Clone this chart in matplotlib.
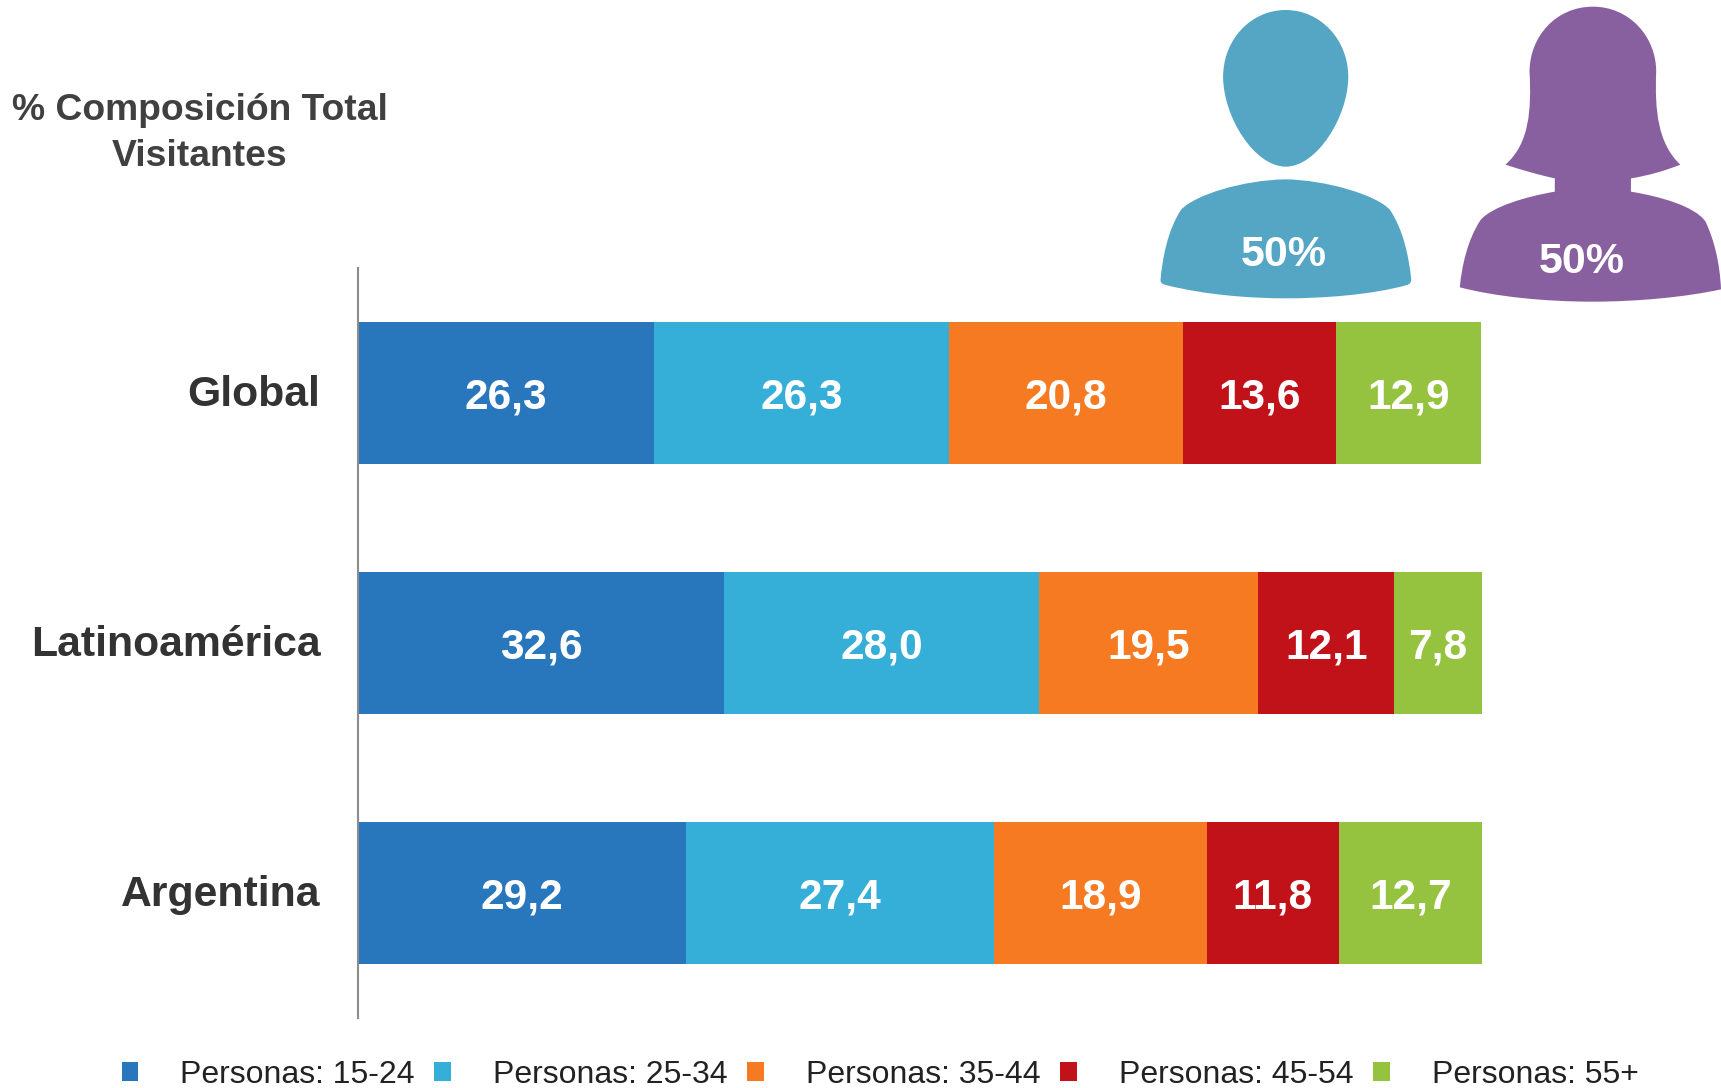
import matplotlib
matplotlib.use('Agg')
import matplotlib.pyplot as plt
from matplotlib.path import Path
from matplotlib.patches import PathPatch
from matplotlib.transforms import ScaledTranslation

plt.rcParams['font.family'] = ['Liberation Sans', 'DejaVu Sans']

categories = ['Global', 'Latinoamérica', 'Argentina']
personas_15_24 = [26.3, 32.6, 29.2]
personas_25_34 = [26.3, 28.0, 27.4]
personas_35_44 = [20.8, 19.5, 18.9]
personas_45_54 = [13.6, 12.1, 11.8]
personas_55 = [12.9, 7.8, 12.7]

series = [personas_15_24, personas_25_34, personas_35_44, personas_45_54, personas_55]
labels = ['Personas: 15-24', 'Personas: 25-34', 'Personas: 35-44', 'Personas: 45-54', 'Personas: 55+']
colors = ['#2876BC', '#35AED8', '#F57A22', '#C1121A', '#95C33F']

W, H = 1721, 1088
fig = plt.figure(figsize=(W / 100, H / 100), dpi=100)

# bars, axes box given in pixels of the reference
ax = fig.add_axes([358 / W, 1 - 1018 / H, 1124 / W, 750 / H])
ax.set_xlim(0, 100)
ax.set_ylim(2.5, -0.5)

left = [0, 0, 0]
for vals, lab, col in zip(series, labels, colors):
    bars = ax.barh(categories, vals, left=left, height=0.568, color=col, label=lab)
    anns = ax.bar_label(bars, labels=[f'{v:.1f}'.replace('.', ',') for v in vals], label_type='center',
                        color='white', fontsize=30.5, fontweight='bold')
    for a in anns:
        a.xyann = (0, -3)  # labels sit a little low in the bars
    left = [a + b for a, b in zip(left, vals)]

for s in ['top', 'right', 'bottom']:
    ax.spines[s].set_visible(False)
ax.spines['left'].set_color('#8C8C8C')
ax.spines['left'].set_linewidth(1.5)
ax.xaxis.set_visible(False)
ax.tick_params(axis='y', length=0, pad=27, labelsize=30.8, labelcolor='#333333')
for t in ax.get_yticklabels():
    t.set_fontweight('bold')
    t.set_transform(t.get_transform() + ScaledTranslation(0, 1.6 / 72, fig.dpi_scale_trans))

ax.legend(loc='center', bbox_to_anchor=(880 / W, 1 - 1075 / H), bbox_transform=fig.transFigure,
          ncols=5, frameon=False, fontsize=23, labelcolor='#222222', handlelength=0.53, handleheight=0.53,
          handletextpad=1.3, columnspacing=0.62, borderpad=0, borderaxespad=0)

# overlay in reference pixels for the silhouettes and the heading
ov = fig.add_axes([0, 0, 1, 1])
ov.set_xlim(0, W)
ov.set_ylim(H, 0)
ov.axis('off')
ov.patch.set_alpha(0)


def shape(points):
    verts, codes = [], []
    for i, p in enumerate(points):
        xy = (1130 + p[0] / 2.653, p[1] / 3)
        verts.append(xy)
        if i == 0:
            codes.append(Path.MOVETO)
        elif len(p) == 3:
            codes.append(Path.LINETO)
        else:
            codes.append(Path.CURVE4)
    return Path(verts, codes)


man_head = [(413, 30), (320, 30), (247, 120), (247, 230), (247, 350), (330, 500), (413, 500),
            (496, 500), (579, 350), (579, 230), (579, 120), (506, 30), (413, 30)]
man_body = [(413, 538), (300, 540), (170, 585), (135, 630), (100, 690), (85, 780), (81, 840),
            (81, 848), (85, 852), (95, 855), (200, 885), (320, 895), (413, 895),
            (510, 895), (640, 885), (735, 855), (742, 852), (746, 848), (746, 838),
            (740, 770), (725, 690), (690, 630), (655, 585), (520, 540), (413, 538)]
woman = [(1228, 20), (1130, 20), (1060, 110), (1060, 215), (1065, 330), (1060, 430), (996, 494),
         (1040, 510), (1085, 525), (1127, 535), (1127, 575, 'L'),
         (1050, 590), (960, 620), (930, 660), (895, 720), (880, 800), (875, 862),
         (970, 890), (1100, 905), (1228, 905), (1350, 905), (1480, 890), (1568, 868),
         (1565, 790), (1550, 720), (1527, 665), (1500, 620), (1410, 590), (1329, 575),
         (1329, 535, 'L'), (1375, 527), (1420, 512), (1460, 494),
         (1400, 430), (1392, 330), (1396, 215), (1396, 110), (1325, 20), (1228, 20)]

ov.add_patch(PathPatch(shape(man_head), fc='#54A6C4', ec='none'))
ov.add_patch(PathPatch(shape(man_body), fc='#54A6C4', ec='none'))
ov.add_patch(PathPatch(shape(woman), fc='#8860A0', ec='none'))

ov.text(1284, 255, '50%', color='white', fontsize=31, fontweight='bold', ha='center', va='center')
ov.text(1582, 262, '50%', color='white', fontsize=31, fontweight='bold', ha='center', va='center')
ov.text(200, 111, '% Composición Total', color='#404040', fontsize=26.8, fontweight='bold', ha='center', va='center')
ov.text(200, 156, 'Visitantes', color='#404040', fontsize=26.8, fontweight='bold', ha='center', va='center')

fig.savefig('out.png', dpi=100)
